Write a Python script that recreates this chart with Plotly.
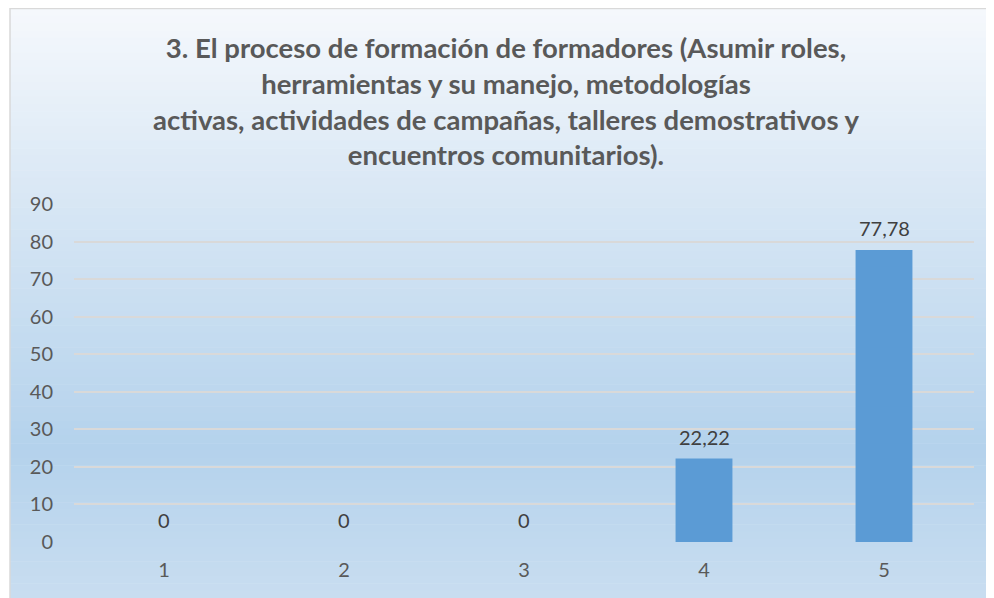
import plotly.graph_objects as go

# datos del gráfico
categorias = ["1", "2", "3", "4", "5"]
valores = [0, 0, 0, 22.22, 77.78]
etiquetas = ["0", "0", "0", "22,22", "77,78"]
y_ticks = [0, 10, 20, 30, 40, 50, 60, 70, 80, 90]

titulo = ("3. El proceso de formación de formadores (Asumir roles,<br>"
          "herramientas y su manejo, metodologías<br>"
          "activas, actividades de campañas, talleres demostrativos y<br>"
          "encuentros comunitarios).")

# la página tiene 8px de margen del body
W, H = 986, 590
ML, MR, MT, MB = 66, 20, 196, 56
PW, PH = W - ML - MR, H - MT - MB

def px_x(x):
    return (x - ML) / PW

def px_y(y):
    return (H - MB - y) / PH

fig = go.Figure()
fig.add_trace(go.Bar(
    x=categorias, y=valores,
    marker=dict(color="#5b9bd5", line=dict(width=0)),
    width=0.316,
))
# etiquetas de datos (en un eje de categorías, x es el índice de la categoría)
for i, (v, e) in enumerate(zip(valores, etiquetas)):
    fig.add_annotation(x=i, y=v, text=e, showarrow=False, yanchor="bottom", yshift=8,
                       font=dict(family="Lato", size=20, color="#404040"))

# fondo degradado del área del gráfico (estilo Excel)
def mezcla(c1, c2, t):
    return "rgb(%d,%d,%d)" % tuple(round(a + (b - a) * t) for a, b in zip(c1, c2))

paradas = [(0.0, (245, 248, 252)), (0.3, (218, 232, 245)), (0.75, (180, 210, 236)), (1.0, (200, 221, 240))]
n = 80
top, bottom, left = 0, H, 2
shapes = []
for i in range(n):
    t = i / (n - 1)
    for j in range(len(paradas) - 1):
        if paradas[j][0] <= t <= paradas[j + 1][0]:
            tt = (t - paradas[j][0]) / (paradas[j + 1][0] - paradas[j][0])
            col = mezcla(paradas[j][1], paradas[j + 1][1], tt)
            break
    y0 = top + (bottom - top) * i / n
    y1 = top + (bottom - top) * (i + 1) / n + 0.6
    shapes.append(dict(type="rect", xref="paper", yref="paper", layer="below",
                       x0=px_x(left), x1=px_x(W + 2), y0=px_y(y1), y1=px_y(y0),
                       fillcolor=col, line=dict(width=0)))
shapes.append(dict(type="rect", xref="paper", yref="paper", layer="below",
                   x0=px_x(left), x1=px_x(W + 5), y0=px_y(H + 5), y1=px_y(top + 0.5),
                   fillcolor="rgba(0,0,0,0)", line=dict(color="#d9d9d9", width=1.5)))

fig.update_layout(
    width=W, height=H,
    margin=dict(l=ML, r=MR, t=MT, b=MB),
    paper_bgcolor="white", plot_bgcolor="rgba(0,0,0,0)",
    shapes=shapes,
    showlegend=False,
    title=dict(text=titulo, x=498 / W, xref="container", xanchor="center",
               y=1 - 50 / H, yanchor="top",
               font=dict(family="Lato", size=27.5, color="#595959", weight="bold")),
    font=dict(family="Lato", size=20, color="#595959"),
)
fig.update_xaxes(type="category", showgrid=False, showline=False, ticks="", ticklabelstandoff=14,
                 tickfont=dict(size=20, color="#595959"))
fig.update_yaxes(range=[0, 90], tickvals=y_ticks, showgrid=True, gridcolor="#d9d9d9", gridwidth=2,
                 zeroline=False, showline=False, ticks="", ticklabelstandoff=20,
                 tickfont=dict(size=20, color="#595959"))

fig.write_html("out.html")
